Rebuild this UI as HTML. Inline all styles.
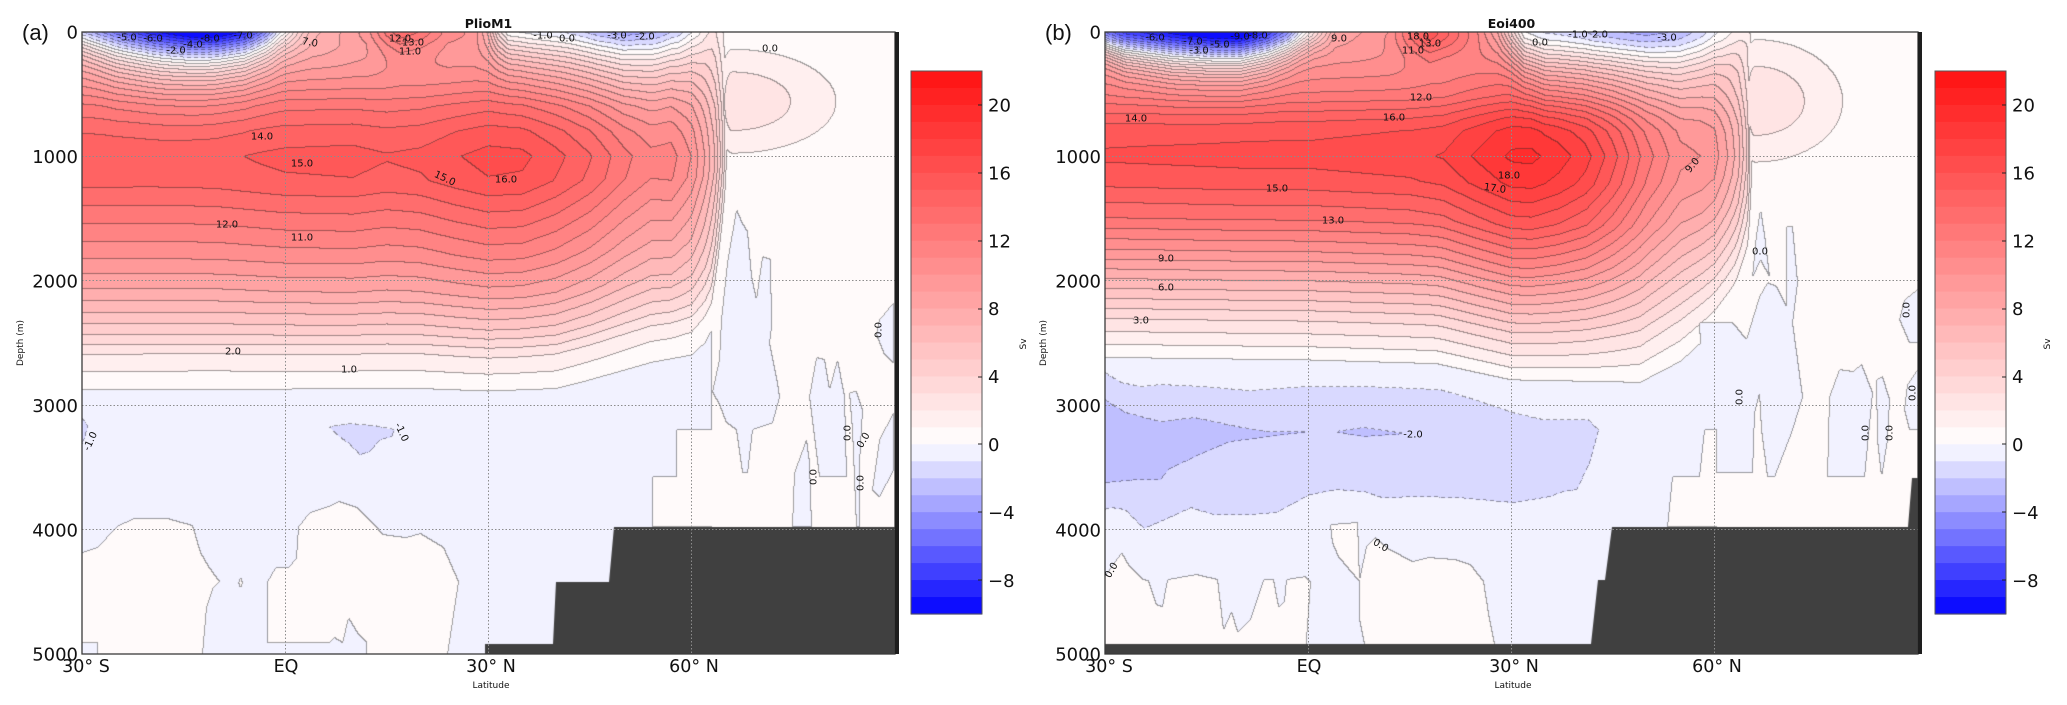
<!DOCTYPE html>
<html><head><meta charset="utf-8">
<style>
html,body{margin:0;padding:0;background:#fff;}
body{width:2067px;height:705px;position:relative;overflow:hidden;}
canvas{position:absolute;}
#ov{position:absolute;left:0;top:0;}
</style></head><body>
<canvas id="ca" style="left:82px;top:32px" width="813" height="622"></canvas>
<canvas id="cb" style="left:1105px;top:32px" width="813" height="622"></canvas>
<svg id="ov" width="2067" height="705" viewBox="0 0 2067 705" xmlns="http://www.w3.org/2000/svg">
<g id="cbars"></g>
<!-- gridlines -->
<g stroke="#8c8c8c" stroke-width="1" stroke-dasharray="1.5,2" fill="none">
<line x1="285.5" y1="32" x2="285.5" y2="654"/><line x1="488.5" y1="32" x2="488.5" y2="654"/><line x1="691.5" y1="32" x2="691.5" y2="654"/>
<line x1="82" y1="156.5" x2="895" y2="156.5"/><line x1="82" y1="280.5" x2="895" y2="280.5"/><line x1="82" y1="405.5" x2="895" y2="405.5"/><line x1="82" y1="529.5" x2="895" y2="529.5"/>
<line x1="1308.5" y1="32" x2="1308.5" y2="654"/><line x1="1511.5" y1="32" x2="1511.5" y2="654"/><line x1="1714.5" y1="32" x2="1714.5" y2="654"/>
<line x1="1105" y1="156.5" x2="1918" y2="156.5"/><line x1="1105" y1="280.5" x2="1918" y2="280.5"/><line x1="1105" y1="405.5" x2="1918" y2="405.5"/><line x1="1105" y1="529.5" x2="1918" y2="529.5"/>
</g>
<!-- frames -->
<rect x="82" y="32" width="813" height="622" fill="none" stroke="#3a3a3a" stroke-width="1.3"/>
<rect x="895" y="32" width="4" height="622" fill="#1e1e1e"/>
<rect x="1105" y="32" width="813" height="622" fill="none" stroke="#3a3a3a" stroke-width="1.3"/>
<rect x="1918" y="32" width="4" height="622" fill="#1e1e1e"/>
<!-- colorbar outlines -->
<rect x="911" y="71" width="71" height="543" fill="none" stroke="#555" stroke-width="1"/>
<rect x="1935" y="71" width="71" height="543" fill="none" stroke="#555" stroke-width="1"/>
<g stroke="#222" stroke-width="1">
<line x1="978" y1="105" x2="982" y2="105"/><line x1="978" y1="173" x2="982" y2="173"/><line x1="978" y1="241" x2="982" y2="241"/><line x1="978" y1="309" x2="982" y2="309"/><line x1="978" y1="377" x2="982" y2="377"/><line x1="978" y1="444" x2="982" y2="444"/><line x1="978" y1="512" x2="982" y2="512"/><line x1="978" y1="580" x2="982" y2="580"/>
<line x1="2002" y1="105" x2="2006" y2="105"/><line x1="2002" y1="173" x2="2006" y2="173"/><line x1="2002" y1="241" x2="2006" y2="241"/><line x1="2002" y1="309" x2="2006" y2="309"/><line x1="2002" y1="377" x2="2006" y2="377"/><line x1="2002" y1="444" x2="2006" y2="444"/><line x1="2002" y1="512" x2="2006" y2="512"/><line x1="2002" y1="580" x2="2006" y2="580"/>
</g>
<!-- panel letters and titles -->
<g font-family="Liberation Sans, Arial, sans-serif" font-size="22" fill="#111">
<text x="22" y="40">(a)</text>
<text x="1045" y="40">(b)</text>
</g>
<g font-family="DejaVu Sans, Liberation Sans, sans-serif" font-size="12.5" font-weight="bold" fill="#111" text-anchor="middle">
<text x="488.5" y="28">PlioM1</text>
<text x="1511.5" y="28">Eoi400</text>
</g>
<!-- y tick labels -->
<g font-family="DejaVu Sans, Liberation Sans, sans-serif" font-size="18" fill="#111" text-anchor="end">
<text x="78" y="38.5">0</text><text x="78" y="163">1000</text><text x="78" y="287.5">2000</text><text x="78" y="412">3000</text><text x="78" y="536.5">4000</text><text x="78" y="660.5">5000</text>
<text x="1101" y="38.5">0</text><text x="1101" y="163">1000</text><text x="1101" y="287.5">2000</text><text x="1101" y="412">3000</text><text x="1101" y="536.5">4000</text><text x="1101" y="660.5">5000</text>
</g>
<!-- x tick labels -->
<g font-family="DejaVu Sans, Liberation Sans, sans-serif" font-size="17.5" fill="#111" text-anchor="middle">
<text x="86" y="672">30° S</text><text x="286" y="672">EQ</text><text x="491" y="672">30° N</text><text x="694" y="672">60° N</text>
<text x="1109" y="672">30° S</text><text x="1309" y="672">EQ</text><text x="1514" y="672">30° N</text><text x="1717" y="672">60° N</text>
</g>
<g font-family="DejaVu Sans, Liberation Sans, sans-serif" font-size="9" fill="#111" text-anchor="middle">
<text x="491" y="688">Latitude</text><text x="1513" y="688">Latitude</text>
<text transform="translate(23,343) rotate(-90)">Depth (m)</text>
<text transform="translate(1046,343) rotate(-90)">Depth (m)</text>
<text transform="translate(1026,344) rotate(-90)">Sv</text>
<text transform="translate(2050,344) rotate(-90)">Sv</text>
</g>
<!-- colorbar tick labels -->
<g font-family="DejaVu Sans, Liberation Sans, sans-serif" font-size="18" fill="#111">
<text x="988" y="111.5">20</text><text x="988" y="179.5">16</text><text x="988" y="247.5">12</text><text x="988" y="315">8</text><text x="988" y="383">4</text><text x="988" y="451">0</text><text x="988" y="519">−4</text><text x="988" y="587">−8</text>
<text x="2012" y="111.5">20</text><text x="2012" y="179.5">16</text><text x="2012" y="247.5">12</text><text x="2012" y="315">8</text><text x="2012" y="383">4</text><text x="2012" y="451">0</text><text x="2012" y="519">−4</text><text x="2012" y="587">−8</text>
</g>
<!-- contour labels panel a -->
<g font-family="DejaVu Sans, Liberation Sans, sans-serif" font-size="10" fill="#111" text-anchor="middle">
<text x="127" y="40.5">-5.0</text><text x="153" y="41.5">-6.0</text><text x="176" y="53.5">-2.0</text><text x="193" y="47.5">-4.0</text><text x="210" y="41.5">-8.0</text><text x="243" y="38.5">-7.0</text>
<text transform="translate(310,42) rotate(10)" y="3.5">7.0</text>
<text x="400" y="41.5">12.0</text><text x="413" y="45.5">13.0</text><text x="410" y="54.5">11.0</text>
<text x="262" y="139.5">14.0</text><text x="302" y="166.5">15.0</text>
<text transform="translate(445,178) rotate(25)" y="3.5">15.0</text>
<text x="506" y="182.5">16.0</text><text x="227" y="227.5">12.0</text><text x="302" y="240.5">11.0</text>
<text x="233" y="354.5">2.0</text><text x="349" y="372.5">1.0</text>
<text transform="translate(90,441) rotate(-65)" y="3.5">-1.0</text>
<text transform="translate(402,432) rotate(65)" y="3.5">-1.0</text>
<text x="543" y="38.5">-1.0</text><text x="567" y="41.5">0.0</text><text x="617" y="38.5">-3.0</text><text x="645" y="39.5">-2.0</text><text x="770" y="51.5">0.0</text>
<text transform="translate(878,330) rotate(-90)" y="3.5">0.0</text>
<text transform="translate(847,433) rotate(-90)" y="3.5">0.0</text>
<text transform="translate(863,440) rotate(-60)" y="3.5">0.0</text>
<text transform="translate(813,477) rotate(-90)" y="3.5">0.0</text>
<text transform="translate(860,483) rotate(-90)" y="3.5">0.0</text>
</g>
<!-- contour labels panel b -->
<g font-family="DejaVu Sans, Liberation Sans, sans-serif" font-size="10" fill="#111" text-anchor="middle">
<text x="1155" y="40.5">-6.0</text><text x="1193" y="44.5">-7.0</text><text x="1199" y="53.5">-3.0</text><text x="1220" y="47.5">-5.0</text><text x="1240" y="39.5">-9.0</text><text x="1258" y="38.5">-8.0</text>
<text x="1339" y="41.5">9.0</text><text x="1418" y="39.5">18.0</text><text x="1430" y="46.5">13.0</text><text x="1413" y="53.5">11.0</text>
<text x="1540" y="45.5">0.0</text><text x="1578" y="37.5">-1.0</text><text x="1600" y="37.5">2.0</text><text x="1667" y="40.5">-3.0</text>
<text x="1136" y="121.5">14.0</text><text x="1421" y="100.5">12.0</text><text x="1394" y="120.5">16.0</text><text x="1509" y="178.5">18.0</text>
<text transform="translate(1495,188) rotate(8)" y="3.5">17.0</text>
<text x="1277" y="191.5">15.0</text><text x="1333" y="223.5">13.0</text>
<text x="1166" y="261.5">9.0</text><text x="1166" y="290.5">6.0</text><text x="1141" y="323.5">3.0</text>
<text x="1413" y="437.5">-2.0</text>
<text transform="translate(1381,545) rotate(30)" y="3.5">0.0</text>
<text transform="translate(1111,570) rotate(-60)" y="3.5">0.0</text>
<text transform="translate(1692,165) rotate(-50)" y="3.5">9.0</text>
<text x="1760" y="254.5">0.0</text>
<text transform="translate(1739,397) rotate(-90)" y="3.5">0.0</text>
<text transform="translate(1865,433) rotate(-90)" y="3.5">0.0</text>
<text transform="translate(1889,433) rotate(-90)" y="3.5">0.0</text>
<text transform="translate(1912,393) rotate(-90)" y="3.5">0.0</text>
<text transform="translate(1906,310) rotate(-90)" y="3.5">0.0</text>
</g>
</svg>
<script>
function ip(t,x){if(x<=t[0][0])return t[0][1];for(var i=1;i<t.length;i++){if(x<=t[i][0]){var a=t[i-1],b=t[i];return a[1]+(b[1]-a[1])*(x-a[0])/(b[0]-a[0]);}}return t[t.length-1][1];}
function inPoly(p,x,y){var c=false;for(var i=0,j=p.length-1;i<p.length;j=i++){var xi=p[i][0],yi=p[i][1],xj=p[j][0],yj=p[j][1];if(((yi>y)!==(yj>y))&&(x<(xj-xi)*(y-yi)/(yj-yi)+xi))c=!c;}return c;}
function col(k){if(k>=0){var t=(k+0.5)/22;var g=Math.round(255*(1-0.93*t));return [255,g,g];}var t2=(-k-0.5)/10;var c=Math.round(255*(1-t2));return [c,c,255];}

var PA={id:'ca',x0:82,x1:895,y0:32,y1:654,nLat:65.3,xDef:712,Zref:2880,p:1.3,
pk:[[-30,14.8],[-20,14.8],[-10,14.9],[-5,15.1],[0,15.3],[10,15.4],[15,15.1],[20,15.3],[25,15.9],[30,16.4],[35,16.3],[40,15.4],[45,14.2],[50,12.5],[54,11.4],[57,11.5],[60,10],[62,8],[63.5,6],[64.5,3.5],[65.3,0.6]],
sUp:[[0,0.35],[100,0.42],[200,0.5],[300,0.58],[450,0.7],[600,0.83],[800,0.94],[1000,1]],
sLow:[[1000,1],[1200,0.97],[1500,0.83],[1800,0.69],[2100,0.52],[2400,0.3],[2600,0.13],[2800,0.035],[2880,0],[3000,-0.05]],
Z0:[[-30,2880],[20,2870],[30,2890],[40,2870],[45,2800],[54,2660],[60,2600],[62,2500],[63,2400],[64,2000],[65,1490],[65.3,1250]],
A:[[-30,-7],[-28,-8.5],[-23,-12],[-19.5,-14],[-14,-16],[-10,-16],[-6,-14],[-3,-10],[-1,-6],[0,-4.5],[2,-1.3],[4,1.2],[8,2.5],[12,4],[15,7],[17,8.5],[20,7.5],[24,5],[28,4],[30,1],[31.5,-3],[33,-5.5],[36,-6],[42,-6.5],[46,-7.5],[50,-8],[55,-7],[58,-5.5],[61,-2.5],[63,0]],
H:[[-30,170],[-25,260],[-18,300],[-12,300],[-6,270],[-2,220],[0,170],[4,150],[10,180],[15,200],[28,200],[31,230],[35,270],[42,310],[50,350],[55,330],[58,300],[61,250],[63,200]],
bub:[66,12.1,560,329,2.5],
polys:[
{v:0.5,pts:[[82,553],[98,548],[117,527],[134,519],[168,519],[193,526],[201,553],[209,567],[220,582],[214,587],[207,607],[203,654],[98,654],[98,643],[82,643]]},
{v:0.5,pts:[[241,578],[243,583],[241,588],[239,583]]},
{v:0.5,pts:[[268,643],[268,582],[276,568],[289,568],[297,558],[299,527],[310,513],[329,507],[339,502],[358,508],[379,530],[383,535],[406,538],[421,534],[444,548],[459,582],[448,654],[367,654],[367,643],[358,633],[349,618],[343,643],[335,638],[329,643]]},
{v:-1.5,pts:[[330,427],[350,424],[375,426],[395,430],[392,437],[380,440],[370,452],[360,455],[352,446],[340,437]]},
{v:-1.5,pts:[[82,418],[88,426],[85,438],[82,445]]},
{v:0.5,pts:[[653,527],[653,477],[677,477],[677,430],[740,430],[740,527]]},
{v:-0.5,pts:[[713,392],[720,360],[722,320],[728,263],[737,210],[742,222],[748,232],[752,277],[757,300],[763,257],[771,260],[772,327],[770,343],[778,383],[780,397],[773,423],[753,430],[748,473],[743,473],[737,430],[727,423],[720,405]]},
{v:-0.5,pts:[[807,440],[810,463],[812,527],[793,527],[795,473]]},
{v:-0.5,pts:[[817,358],[825,360],[830,390],[838,360],[845,397],[847,477],[820,477],[810,397]]},
{v:-0.5,pts:[[850,393],[857,392],[863,410],[860,463],[860,527],[857,527],[853,430]]},
{v:-0.5,pts:[[894,303],[880,320],[877,335],[885,355],[894,363]]},
{v:-0.5,pts:[[894,413],[880,440],[873,490],[880,497],[894,470]]}
],
bath:[[485,654],[485,644],[553,644],[556,582],[609,582],[614,527],[896,527],[896,654]]
};

var PB={id:'cb',x0:1105,x1:1918,y0:32,y1:654,nLat:65.6,xDef:1717,Zref:2620,p:1.6,
pk:[[-30,16.2],[-10,16.4],[0,16.4],[10,16.6],[15,16.7],[20,17.1],[25,18.2],[30,19.2],[33,19.3],[37,18.6],[41,17.5],[45,15.5],[50,12.5],[55,10.3],[58,10],[60,9.5],[62,8],[63.5,6.5],[64.8,4],[65.6,0.6]],
sUp:[[0,0.5],[100,0.54],[200,0.58],[300,0.63],[400,0.68],[520,0.75],[600,0.82],[700,0.9],[800,0.96],[1000,1]],
sLow:[[1000,1],[1200,0.95],[1500,0.8],[1800,0.58],[2000,0.42],[2300,0.19],[2500,0.07],[2620,0],[2700,-0.04],[3000,-0.05]],
Z0:[[-30,2620],[0,2640],[19,2670],[30,2800],[49,2820],[55,2650],[60,2400],[63,2200],[65,1950],[65.6,1600]],
A:[[-30,-13],[-27,-15.5],[-20,-17.5],[-14,-19],[-10,-19],[-6,-16],[-3,-12.5],[-1,-8.5],[1,-5.2],[4,-0.2],[8,0.7],[12,1.7],[15,4.6],[18,7.3],[21,5.2],[25,1.9],[28,-1.4],[30,-5.6],[32,-9.6],[35,-10.6],[38,-10.6],[42,-10.8],[46,-10.4],[50,-9.6],[54,-8.3],[58,-6.5],[61,-4.2],[63,-2.3],[65,0]],
H:[[-30,170],[-27,220],[-20,270],[-14,280],[-10,280],[-6,250],[-3,205],[-1,170],[1,140],[4,140],[8,160],[12,180],[15,200],[25,200],[28,220],[30,260],[32,320],[35,380],[38,380],[42,370],[46,360],[50,350],[54,340],[58,300],[61,250],[63,200]],
bub:[66,10.2,557,388,2.5],
polys:[
{v:-1.5,pts:[[1105,373],[1122,383],[1142,387],[1161,385],[1203,387],[1249,391],[1306,387],[1364,387],[1440,390],[1475,400],[1513,413],[1543,420],[1589,420],[1599,430],[1590,463],[1577,490],[1563,492],[1550,497],[1513,503],[1459,498],[1421,497],[1383,498],[1364,492],[1337,490],[1310,495],[1276,513],[1249,515],[1214,515],[1191,508],[1165,520],[1144,529],[1126,510],[1111,508],[1105,510]]},
{v:-2.5,pts:[[1105,400],[1126,413],[1161,422],[1195,418],[1237,427],[1268,432],[1309,432],[1268,437],[1230,442],[1199,455],[1168,470],[1161,480],[1138,480],[1115,482],[1105,483]]},
{v:-2.5,pts:[[1335,432],[1364,428],[1406,434],[1364,437]]},
{v:0.5,pts:[[1105,577],[1122,553],[1130,567],[1144,580],[1149,581],[1157,605],[1163,607],[1168,580],[1197,575],[1218,580],[1224,630],[1232,612],[1238,632],[1251,620],[1264,580],[1274,580],[1279,607],[1285,602],[1287,580],[1306,577],[1311,582],[1306,654],[1105,654]]},
{v:0.5,pts:[[1331,525],[1358,523],[1360,580],[1367,547],[1375,538],[1390,550],[1413,562],[1429,558],[1455,560],[1471,565],[1484,582],[1490,620],[1497,654],[1367,654],[1360,620],[1360,582],[1339,557],[1333,543]]},
{v:0.5,pts:[[1668,527],[1673,477],[1700,477],[1705,430],[1717,430],[1717,527]]},
{v:-0.5,pts:[[1700,323],[1733,323],[1747,340],[1760,297],[1768,283],[1777,287],[1787,307],[1787,227],[1793,227],[1798,283],[1793,323],[1803,397],[1793,430],[1775,477],[1768,477],[1762,430],[1760,393],[1755,413],[1753,473],[1717,473],[1717,430],[1705,430]]},
{v:-0.5,pts:[[1761,210],[1765,235],[1770,277],[1761,260],[1753,277],[1757,235]]},
{v:-0.5,pts:[[1830,397],[1840,370],[1853,372],[1862,365],[1873,393],[1865,477],[1828,477]]},
{v:-0.5,pts:[[1877,380],[1883,377],[1890,400],[1888,440],[1882,477],[1878,440]]},
{v:-0.5,pts:[[1918,290],[1905,300],[1900,320],[1910,343],[1918,343]]},
{v:-0.5,pts:[[1918,370],[1908,385],[1905,410],[1910,430],[1918,430]]}
],
bath:[[1105,654],[1105,644],[1591,644],[1598,580],[1605,580],[1612,527],[1908,527],[1912,478],[1919,478],[1919,654]]
};

function render(P){
 var W=P.x1-P.x0,H=P.y1-P.y0;
 var cv=document.getElementById(P.id);var ctx=cv.getContext('2d');
 var K=new Int16Array(W*H);
 var polys=P.polys.map(function(p){var xs=p.pts.map(function(q){return q[0];}),ys=p.pts.map(function(q){return q[1];});return {pts:p.pts,v:p.v,bx0:Math.min.apply(null,xs),bx1:Math.max.apply(null,xs),by0:Math.min.apply(null,ys),by1:Math.max.apply(null,ys)};});
 var bl=P.bub[0],bls=P.bub[1],bz=P.bub[2],bzs=P.bub[3],bam=P.bub[4];
 for(var i=0;i<W;i++){
  var px=P.x0+i+0.5,lat=-30+(i+0.5)*120/W;
  var pk=ip(P.pk,lat),A=ip(P.A,lat),h=ip(P.H,lat),Z0=ip(P.Z0,lat);
  var def=px<P.xDef?-0.5:0.5;
  var dl=lat<bl?(bl-lat)/1.5:(lat-bl)/bls,dl2=dl*dl;
  for(var j=0;j<H;j++){
   var py=P.y0+j+0.5,z=(j+0.5)*5000/H;
   var dz=(z-bz)/bzs;var b=bam*Math.exp(-(dl2+dz*dz));
   var v;
   if(lat>=P.nLat){v=0.5+b;}
   else{
    var s;
    if(z<=1000)s=ip(P.sUp,z);else s=ip(P.sLow,1000+(z-1000)*(P.Zref-1000)/Math.max(Z0-1000,100));
    v=pk*s+A*Math.exp(-Math.pow(z/h,P.p));
    if(v<0&&z>1000)v=def;
    if(b>0.5&&v<0.5+b)v=0.5+b;
   }
   for(var n=0;n<polys.length;n++){var g=polys[n];if(px>=g.bx0&&px<=g.bx1&&py>=g.by0&&py<=g.by1&&inPoly(g.pts,px,py))v=g.v;}
   var k=Math.floor(v);if(k>21)k=21;if(k<-10)k=-10;
   K[j*W+i]=k;
  }
 }
 var img=ctx.createImageData(W,H),d=img.data;
 for(var j2=0;j2<H;j2++){for(var i2=0;i2<W;i2++){
  var idx=j2*W+i2,kk=K[idx];var c=col(kk);var r=c[0],gg=c[1],bb=c[2];
  var line=false;
  if(i2<W-1&&K[idx+1]!==kk){if(!(kk<0&&K[idx+1]<0&&(j2%7)>=4))line=true;}
  if(j2<H-1&&K[idx+W]!==kk){if(!(kk<0&&K[idx+W]<0&&(i2%7)>=4))line=true;}
  if(line){r=r*0.58+30*0.42;gg=gg*0.58+30*0.42;bb=bb*0.58+30*0.42;}
  d[idx*4]=r;d[idx*4+1]=gg;d[idx*4+2]=bb;d[idx*4+3]=255;
 }}
 ctx.putImageData(img,0,0);
 ctx.save();ctx.translate(-P.x0,-P.y0);ctx.fillStyle='#404040';ctx.beginPath();
 P.bath.forEach(function(q,n){if(n)ctx.lineTo(q[0],q[1]);else ctx.moveTo(q[0],q[1]);});
 ctx.closePath();ctx.fill();ctx.restore();
}
function cbar(x){
 var g=document.getElementById('cbars');var ns='http://www.w3.org/2000/svg';
 for(var k=21;k>=-10;k--){
  var y=71+(21-k)*543/32;var c=col(k);
  var r=document.createElementNS(ns,'rect');
  r.setAttribute('x',x);r.setAttribute('y',y.toFixed(2));r.setAttribute('width',71);r.setAttribute('height',(543/32+0.6).toFixed(2));
  r.setAttribute('fill','rgb('+c[0]+','+c[1]+','+c[2]+')');g.appendChild(r);
 }
}
cbar(911);cbar(1935);
render(PA);render(PB);
</script>
</body></html>
